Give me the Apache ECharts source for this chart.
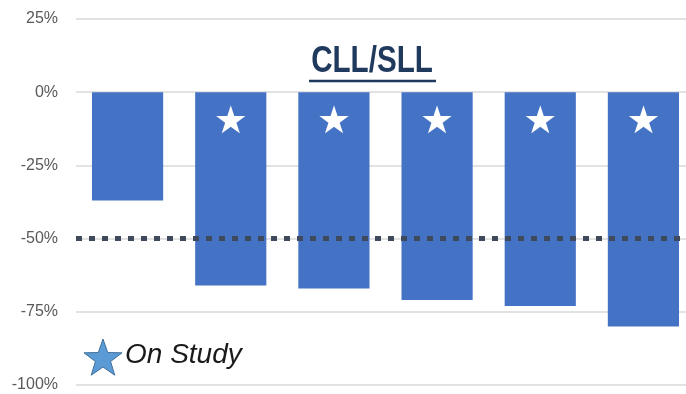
<!DOCTYPE html>
<html>
<head>
<meta charset="utf-8">
<script src="https://cdn.jsdelivr.net/npm/echarts@6/dist/echarts.min.js"></script>
<style>
  html, body { margin: 0; padding: 0; background: #fff; overflow: hidden; }
  #chart { width: 700px; height: 394px; }
</style>
</head>
<body>
<div id="chart"></div>
<script>
// Best percent change per patient, CLL/SLL cohort
const patients = ['P1', 'P2', 'P3', 'P4', 'P5', 'P6'];
const pctChange = [-37, -66, -67, -71, -73, -80];
const onStudy = [false, true, true, true, true, true];
const yTicks = { min: -100, max: 25, step: 25 };
const responseThreshold = -50;

// five-point star outline for the legend marker
function starPoints(cx, cy, rOuter, rInner) {
  const pts = [];
  for (let i = 0; i < 10; i++) {
    const r = i % 2 === 0 ? rOuter : rInner;
    const a = -Math.PI / 2 + i * Math.PI / 5;
    pts.push([cx + r * Math.cos(a), cy + r * Math.sin(a)]);
  }
  return pts;
}

const chart = echarts.init(document.getElementById('chart'));
chart.setOption({
  animation: false,
  backgroundColor: '#ffffff',
  grid: { left: 76, top: 19, width: 619, height: 366 },
  xAxis: {
    type: 'category',
    data: patients,
    axisLine: { show: false },
    axisTick: { show: false },
    axisLabel: { show: false },
    splitLine: { show: false }
  },
  yAxis: {
    type: 'value',
    min: yTicks.min,
    max: yTicks.max,
    interval: yTicks.step,
    axisLine: { show: false },
    axisTick: { show: false },
    axisLabel: {
      formatter: v => v + '%',
      color: '#595959',
      fontFamily: '"Liberation Sans", sans-serif',
      fontSize: 16,
      margin: 18
    },
    splitLine: { lineStyle: { color: '#d9d9d9', width: 1.5 } }
  },
  series: [{
    type: 'bar',
    data: pctChange,
    barWidth: '69%',
    itemStyle: { color: '#4472c4' },
    label: {
      show: true,
      position: 'insideTop',
      distance: 12,
      formatter: p => (onStudy[p.dataIndex] ? '★' : ''),
      color: '#ffffff',
      fontFamily: '"DejaVu Sans", sans-serif',
      fontSize: 38
    },
    markLine: {
      silent: true,
      symbol: 'none',
      label: { show: false },
      lineStyle: { color: '#3e4a5b', width: 5, type: [6, 7] },
      data: [{ yAxis: responseThreshold }]
    }
  }],
  graphic: [
    {
      // condensed bold heading
      type: 'text',
      x: 372,
      y: 62,
      scaleX: 0.8,
      style: {
        text: 'CLL/SLL',
        fill: '#203a5e',
        font: 'bold 37px "Liberation Sans", sans-serif',
        textAlign: 'center',
        textVerticalAlign: 'middle'
      }
    },
    {
      type: 'line',
      shape: { x1: 309, y1: 81, x2: 436, y2: 81 },
      style: { stroke: '#203a5e', lineWidth: 2.5 }
    },
    {
      type: 'polygon',
      shape: { points: starPoints(103, 359, 20, 8) },
      style: { fill: '#5b9bd5', stroke: '#41719c', lineWidth: 1 }
    },
    {
      type: 'text',
      left: 125,
      top: 341,
      style: {
        text: 'On Study',
        fill: '#1a1a1a',
        font: 'italic 28px "Liberation Sans", sans-serif'
      }
    }
  ]
});
</script>
</body>
</html>
